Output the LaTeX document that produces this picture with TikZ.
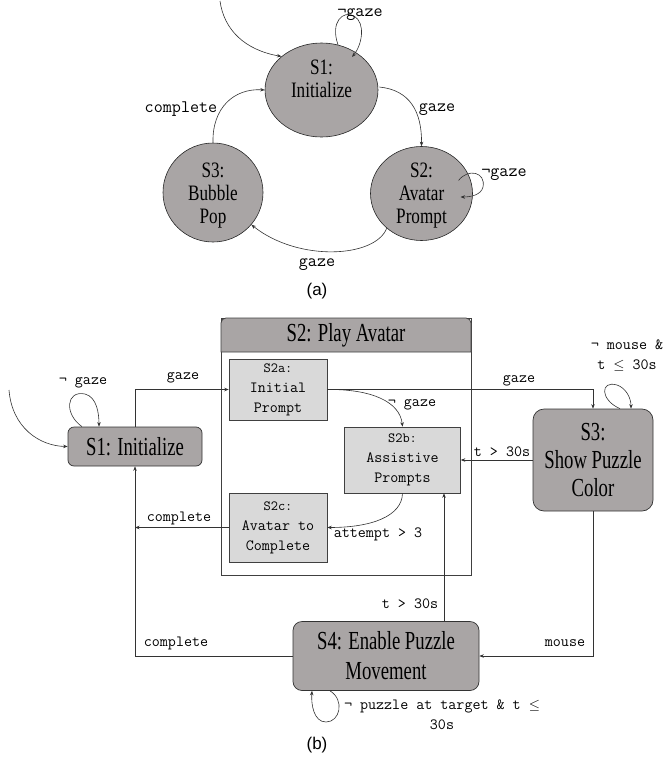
\documentclass[tikz,border=0pt]{standalone}
\usepackage{fontspec}
\setmainfont{Liberation Serif}
\newfontfamily\bstatefont[FakeStretch=0.72]{Liberation Serif}
\newfontfamily\tstatefont[FakeStretch=0.78]{Liberation Serif}
\newfontfamily\capfont{Liberation Sans}
\newcommand\smalltagfont{\ttfamily\fontsize{14}{15}\selectfont}
\newcommand\myleq{\ensuremath{\leq}}
\usetikzlibrary{shapes.geometric,arrows.meta,calc}
\definecolor{stfill}{HTML}{A9A5A5}
\definecolor{subfill}{HTML}{D9D9D9}
\definecolor{linec}{HTML}{333333}
\tikzset{
  arr/.style={draw=linec, line width=0.6pt, -{Stealth[length=4.5pt,width=3.5pt]}},
  topstate/.style={ellipse, draw=black!85, fill=stfill, line width=0.6pt, inner sep=0pt},
  toptxt/.style={font=\tstatefont\fontsize{22}{23}\selectfont, align=center, inner sep=0pt},
  bstate/.style={rectangle, rounded corners=7pt, draw=black!80, fill=stfill, line width=0.7pt, inner sep=0pt, align=center, font=\bstatefont\fontsize{26}{28}\selectfont},
  bsub/.style={rectangle, draw=black!75, fill=subfill, line width=0.6pt, inner sep=0pt, align=center, font=\ttfamily\fontsize{15.6}{20}\selectfont},
  tlab/.style={font=\ttfamily\fontsize{17.6}{20}\selectfont, inner sep=0pt},
  blab/.style={font=\ttfamily\fontsize{15.6}{20}\selectfont, inner sep=0pt, align=center},
  captxt/.style={font=\capfont\fontsize{17}{20}\selectfont, inner sep=0pt}
}
\begin{document}
\begin{tikzpicture}[x=1pt,y=-1pt]
\useasboundingbox (0,0) rectangle (665,766);

% ---------------- (a) ----------------
\node[topstate, minimum width=113pt, minimum height=94pt] (a1) at (321.5,90) {};
\node[topstate, minimum width=102pt, minimum height=94pt] (a2) at (421.5,193.5) {};
\node[topstate, minimum width=100pt, minimum height=99pt] (a3) at (213,192.5) {};
\node[toptxt] (a1t) at (321.5,79) {S1:\\Initialize};
\node[toptxt] (a2t) at (421.5,196) {S2:\\Avatar\\Prompt};
\node[toptxt] (a3t) at (213,196) {S3:\\Bubble\\Pop};

\coordinate (ainit) at (220,1);
\draw[arr] (ainit) .. controls (224,30) and (245,50) .. (a1.140);
\draw[arr] ($(a1.north)+(16.5,2)$) .. controls (330,22) and (343,10) .. (354,16)
  .. controls (366,23) and (362,45) .. (352,57);
\draw[arr] ($(a1.east)+(1,-3)$) .. controls (410,90) and (422,112) .. (a2.north);
\draw[arr] ($(a2.center)+(37,-13)$) .. controls (468,168) and (486,172) .. (483,187)
  .. controls (481,195) and (471,197) .. ($(a2.center)+(39,3.5)$);
\draw[arr] (a2.225) .. controls (375,258) and (298,262) .. (a3.-40);
\draw[arr] (a3.north) .. controls (212,108) and (234,88) .. (a1.west);

\node[tlab] (l1) at (360,15) {¬gaze};
\node[tlab] (l2) at (437,110) {gaze};
\node[tlab] (l3) at (504,175) {¬gaze};
\node[tlab] (l4) at (317,265) {gaze};
\node[tlab] (l5) at (181,109) {complete};
\node[captxt] (capa) at (317,291) {(a)};

% ---------------- (b) ----------------
\node[draw=black!75, line width=0.7pt, minimum width=250pt, minimum height=257pt, inner sep=0pt] (s2) at (346,446.5) {};
\draw[fill=stfill, draw=black!75, line width=0.7pt] (221,352) -- (221,323) arc[start angle=180, end angle=90, radius=5pt]
  -- (466,318) arc[start angle=90, end angle=0, radius=5pt] -- (471,352) -- cycle;
\node[font=\bstatefont\fontsize{26}{28}\selectfont, inner sep=0pt] (s2t) at (346,335.5) {S2: Play Avatar};

\node[bsub, minimum width=98pt, minimum height=61pt] (s2a) at (278,389.5) {{\smalltagfont S2a:}\\Initial\\Prompt};
\node[bsub, minimum width=116pt, minimum height=66pt] (s2b) at (402.5,460) {{\smalltagfont S2b:}\\Assistive\\Prompts};
\node[bsub, minimum width=98pt, minimum height=69pt] (s2c) at (278,527.5) {{\smalltagfont S2c:}\\Avatar to\\Complete};

\node[bstate, minimum width=134pt, minimum height=39pt, rounded corners=6pt] (b1) at (135,446.5) {S1: Initialize};
\node[bstate, minimum width=120pt, minimum height=102pt, rounded corners=11pt] (s3) at (593,460) {S3:\\Show Puzzle\\Color};
\node[bstate, minimum width=186pt, minimum height=69pt, rounded corners=9pt, font=\bstatefont\fontsize{26}{30}\selectfont] (s4) at (386,656) {S4: Enable Puzzle\\Movement};

\coordinate (binit) at (9,390);
\coordinate (tx) at (444,560);
\draw[arr] (binit) .. controls (12,428) and (40,446) .. (b1.west);
\draw[arr] ($(b1.north)+(-53,0)$) .. controls (64,414) and (66,390) .. (85,394)
  .. controls (97,397) and (99,414) .. ($(b1.north)+(-36,0)$);
\draw[arr] (b1.north) |- (s2a.west);
\draw[arr] (s2a.east) -| (s3.north);
\draw[arr] (s2a.east) .. controls (372,389) and (400,402) .. (s2b.north);
\draw[arr] (s3.west) -- (s2b.east);
\draw[arr] (s2b.south) .. controls (402,516) and (372,527.5) .. (s2c.east);
\draw[arr] (s2c.west) -- (s2c.west -| b1.south);
\draw[arr] (s4.west) -| (b1.south);
\draw[arr] (s3.south) |- (s4.east);
\draw[arr] (s4.north -| tx) -- (s2b.south -| tx);
\draw[arr] ($(s3.north)+(27,0)$) .. controls (600,400) and (600,380) .. (617,385)
  .. controls (626,388) and (631,398) .. ($(s3.north)+(38,0)$);
\draw[arr] ($(s4.south)+(-56,0)$) .. controls (345,700) and (340,722) .. (326,722)
  .. controls (314,722) and (311,705) .. ($(s4.south)+(-74,0)$);

\node[blab] (m1) at (83,383) {¬ gaze};
\node[blab] (m2) at (183,378) {gaze};
\node[blab] (m3) at (519,381) {gaze};
\node[blab] (m4) at (412,405) {¬ gaze};
\node[blab] (m5) at (502,452) {t > 30s};
\node[blab] (m6) at (378,534) {attempt > 3};
\node[blab] (m7) at (179,518) {complete};
\node[blab] (m8) at (176,643) {complete};
\node[blab] (m9) at (565,643) {mouse};
\node[blab] (m10) at (410,604) {t > 30s};
\node[blab] (m11) at (627,356) {¬ mouse \&\\t \myleq{} 30s};
\node[blab] (m12) at (442,715) {¬ puzzle at target \& t \myleq\\30s};
\node[captxt] (capb) at (317,745) {(b)};
\end{tikzpicture}
\end{document}
